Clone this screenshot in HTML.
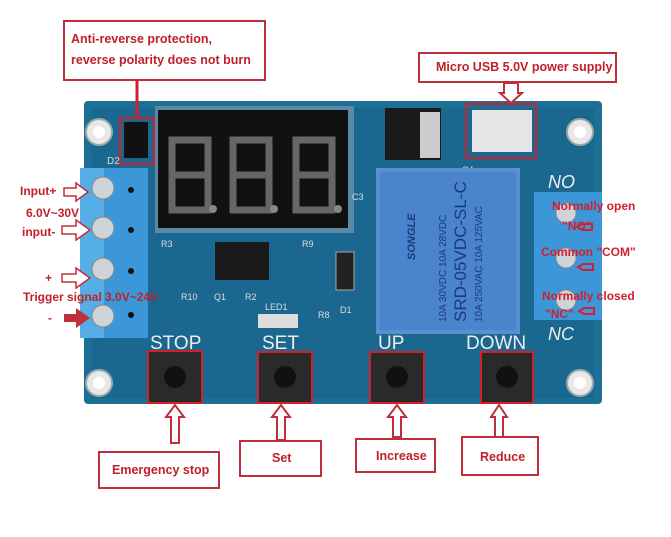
<!DOCTYPE html>
<html><head><style>
body{margin:0;background:#fff;width:671px;height:537px;overflow:hidden}
svg{display:block}
</style></head><body>
<svg width="671" height="537" viewBox="0 0 671 537" xmlns="http://www.w3.org/2000/svg" font-family="Liberation Sans, sans-serif">
<rect x="84" y="101" width="518" height="303" rx="4" fill="#1e6f95"/>
<rect x="92" y="108" width="502" height="290" fill="#1a6790"/>
<g fill="#e8e8e8" stroke="#9aa" stroke-width="2">
<circle cx="99" cy="132" r="13"/><circle cx="580" cy="132" r="13"/>
<circle cx="99" cy="383" r="13"/><circle cx="580" cy="383" r="13"/>
</g>
<g fill="#fff"><circle cx="99" cy="132" r="6"/><circle cx="580" cy="132" r="6"/><circle cx="99" cy="383" r="6"/><circle cx="580" cy="383" r="6"/></g>
<rect x="155" y="106" width="199" height="127" fill="#5a8aa6"/>
<rect x="158" y="110" width="190" height="118" fill="#111"/>
<g fill="none" stroke="#666" stroke-width="7">
<path d="M172 140 h36 v70 h-36z M172 175 h36"/>
<path d="M233 140 h36 v70 h-36z M233 175 h36"/>
<path d="M296 140 h36 v70 h-36z M296 175 h36"/>
</g>
<g fill="#888"><circle cx="213" cy="209" r="4"/><circle cx="274" cy="209" r="4"/><circle cx="338" cy="209" r="4"/></g>
<rect x="120" y="118" width="34" height="46" fill="none" stroke="#d0202a" stroke-width="2"/>
<rect x="124" y="122" width="24" height="36" fill="#111"/>
<text x="107" y="164" font-size="10" fill="#ddd">D2</text>
<rect x="385" y="108" width="56" height="52" fill="#1a1a1a"/>
<rect x="420" y="112" width="20" height="46" fill="#ccc"/>
<rect x="466" y="104" width="70" height="54" fill="none" stroke="#d0202a" stroke-width="2"/>
<rect x="472" y="110" width="60" height="42" fill="#e6e6e6"/>
<text x="462" y="173" font-size="9" fill="#ddd">C4</text>
<rect x="376" y="168" width="144" height="166" fill="#5b8fd0"/>
<rect x="380" y="172" width="136" height="158" fill="#4a84cc"/>
<text transform="translate(466,322) rotate(-90)" font-size="17" fill="#1b3a7a">SRD-05VDC-SL-C</text>
<text transform="translate(446,322) rotate(-90)" font-size="10" fill="#1b3a7a">10A 30VDC 10A 28VDC</text>
<text transform="translate(482,322) rotate(-90)" font-size="10" fill="#1b3a7a">10A 250VAC 10A 125VAC</text>
<text transform="translate(415,260) rotate(-90)" font-size="11" fill="#1b3a7a" font-style="italic" font-weight="bold">SONGLE</text>
<rect x="80" y="168" width="68" height="170" fill="#3b97d8"/>
<rect x="80" y="168" width="24" height="170" fill="#56aee6"/>
<g fill="#cfd4d8" stroke="#888"><circle cx="103" cy="188" r="11"/><circle cx="103" cy="228" r="11"/><circle cx="103" cy="269" r="11"/><circle cx="103" cy="316" r="11"/></g>
<g fill="#111"><circle cx="131" cy="190" r="3"/><circle cx="131" cy="230" r="3"/><circle cx="131" cy="271" r="3"/><circle cx="131" cy="315" r="3"/></g>
<rect x="534" y="192" width="68" height="128" fill="#3b97d8"/>
<g fill="#cfd4d8" stroke="#888"><circle cx="566" cy="213" r="10"/><circle cx="566" cy="258" r="10"/><circle cx="566" cy="300" r="10"/></g>
<text x="548" y="188" font-size="18" font-style="italic" fill="#eee">NO</text>
<text x="548" y="340" font-size="18" font-style="italic" fill="#eee">NC</text>
<rect x="215" y="242" width="54" height="38" fill="#1a1a1a"/>
<rect x="336" y="252" width="18" height="38" fill="#222" stroke="#aaa"/>
<rect x="258" y="314" width="40" height="14" fill="#ddd"/>
<g font-size="9" fill="#ddd"><text x="161" y="247">R3</text><text x="302" y="247">R9</text><text x="181" y="300">R10</text><text x="214" y="300">Q1</text><text x="245" y="300">R2</text><text x="265" y="310">LED1</text><text x="318" y="318">R8</text><text x="340" y="313">D1</text><text x="352" y="200">C3</text></g>
<g font-size="19" fill="#eee">
<text x="150" y="349">STOP</text><text x="262" y="349">SET</text><text x="378" y="349">UP</text><text x="466" y="349">DOWN</text>
</g>
<g>
<rect x="148" y="351" width="54" height="52" fill="#2a2a2a" stroke="#d0202a" stroke-width="2"/>
<rect x="258" y="352" width="54" height="51" fill="#2a2a2a" stroke="#d0202a" stroke-width="2"/>
<rect x="370" y="352" width="54" height="51" fill="#2a2a2a" stroke="#d0202a" stroke-width="2"/>
<rect x="481" y="352" width="52" height="51" fill="#2a2a2a" stroke="#d0202a" stroke-width="2"/>
</g>
<g fill="#111"><circle cx="175" cy="377" r="11"/><circle cx="285" cy="377" r="11"/><circle cx="397" cy="377" r="11"/><circle cx="507" cy="377" r="11"/></g>
<g fill="#fff" stroke="#c0303a" stroke-width="2">
<path d="M175 405 l-9 12 h5 v26 h8 v-26 h5z"/>
<path d="M281 405 l-9 12 h5 v23 h8 v-23 h5z"/>
<path d="M397 405 l-9 12 h5 v20 h8 v-20 h5z"/>
<path d="M499 405 l-8 12 h4 v20 h8 v-20 h4z"/>
</g>
<g fill="#fff" stroke="#c0303a" stroke-width="2">
<rect x="99" y="452" width="120" height="36"/>
<rect x="240" y="441" width="81" height="35"/>
<rect x="356" y="439" width="79" height="33"/>
<rect x="462" y="437" width="76" height="38"/>
<rect x="64" y="21" width="201" height="59"/>
<rect x="419" y="53" width="197" height="29"/>
</g>
<g font-size="12.5" font-weight="bold" fill="#c0202a">
<text x="112" y="474">Emergency stop</text>
<text x="272" y="462">Set</text>
<text x="376" y="460">Increase</text>
<text x="480" y="461">Reduce</text>
<text x="71" y="43">Anti-reverse protection,</text>
<text x="71" y="64">reverse polarity does not burn</text>
<text x="436" y="71">Micro USB 5.0V power supply</text>
</g>
<line x1="137" y1="80" x2="137" y2="118" stroke="#d0202a" stroke-width="3"/>
<path d="M511 83 l-7 0 v10 h-4 l11 10 l11 -10 h-4 v-10z" fill="#fff" stroke="#c0303a" stroke-width="2"/>
<g font-size="12" font-weight="bold" fill="#c0202a">
<text x="20" y="195">Input+</text>
<text x="26" y="217">6.0V~30V</text>
<text x="22" y="236">input-</text>
<text x="45" y="282">+</text>
<text x="23" y="301">Trigger signal 3.0V~24V</text>
<text x="48" y="322">-</text>
</g>
<g fill="#fff" stroke="#c0303a" stroke-width="1.5">
<path d="M64 188 h12 v-5 l12 9 l-12 9 v-5 h-12z"/>
<path d="M62 226 h14 v-6 l14 10 l-14 10 v-6 h-14z"/>
<path d="M62 274 h14 v-6 l14 10 l-14 10 v-6 h-14z"/>
</g>
<path d="M64 314 h12 v-6 l14 10 l-14 10 v-6 h-12z" fill="#c0303a"/>
<g font-size="12" font-weight="bold" fill="#d02030">
<text x="552" y="210">Normally open</text>
<text x="562" y="230">"NO"</text>
<text x="541" y="256">Common "COM"</text>
<text x="542" y="300">Normally closed</text>
<text x="545" y="318">"NC"</text>
</g>
<g fill="none" stroke="#d02030" stroke-width="2">
<path d="M592 224 h-10 l-5 3 l5 3 h10z"/>
<path d="M593 264 h-10 l-5 3 l5 3 h10z"/>
<path d="M594 308 h-10 l-5 3 l5 3 h10z"/>
</g>
</svg>
</body></html>
